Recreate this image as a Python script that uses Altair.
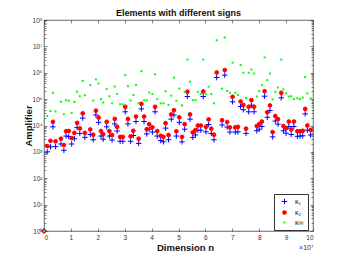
import altair as alt
import pandas as pd

# Dimension n in units of 1e7
n_e7 = [0, 0.12, 0.24, 0.33, 0.43, 0.63, 0.74, 0.82, 0.92, 1.03, 1.13, 1.23, 1.33, 1.44, 1.52,
        1.72, 1.83, 1.93, 2.03, 2.12, 2.20, 2.33, 2.43, 2.53, 2.63, 2.72, 2.83, 2.93, 3.02, 3.12,
        3.22, 3.32, 3.42, 3.52, 3.62, 3.72, 3.82, 3.91, 4.03, 4.13, 4.21, 4.34, 4.44, 4.52, 4.63,
        4.73, 4.83, 4.92, 5.03, 5.13, 5.23, 5.33, 5.43, 5.53, 5.63, 5.72, 5.83, 5.92, 6.02, 6.12,
        6.22, 6.32, 6.42, 6.62, 6.72, 6.81, 6.91, 7.01, 7.11, 7.21, 7.31, 7.41, 7.51, 7.61, 7.71,
        7.81, 7.91, 8.00, 8.10, 8.20, 8.30, 8.40, 8.50, 8.60, 8.70, 8.82, 8.90, 9.00, 9.10, 9.19,
        9.29, 9.42, 9.52, 9.62, 9.71, 9.79, 9.91]

# log10 of the amplifier
log_k1 = [0, 3.00, 3.19, 3.95, 3.20, 3.30, 3.06, 3.60, 3.58, 3.30, 3.50, 3.92, 3.70, 4.28, 3.55,
          3.66, 3.46, 4.40, 4.12, 3.60, 3.48, 3.95, 3.60, 3.45, 4.06, 3.79, 3.40, 3.40, 4.52, 4.06,
          3.40, 3.62, 4.15, 3.32, 4.63, 4.15, 3.68, 3.86, 3.75, 4.52, 3.60, 3.43, 3.38, 3.90, 3.46,
          4.24, 4.40, 3.60, 4.12, 3.38, 3.86, 5.10, 4.24, 3.55, 3.64, 3.82, 3.82, 5.10, 3.76, 4.04,
          3.70, 3.46, 5.82, 4.02, 5.91, 3.94, 3.75, 4.90, 3.75, 3.76, 4.72, 4.60, 3.70, 4.52, 4.77,
          4.52, 3.80, 3.86, 3.96, 5.11, 4.31, 4.57, 3.57, 4.17, 4.05, 5.05, 3.80, 3.71, 3.96, 3.66,
          3.96, 3.59, 3.60, 3.61, 4.44, 3.82, 3.64]

log_k2 = [0, 3.22, 3.42, 4.14, 3.40, 3.50, 3.26, 3.78, 3.79, 3.52, 3.72, 4.10, 3.89, 4.46, 3.72,
          3.85, 3.65, 4.56, 4.30, 3.79, 3.67, 4.14, 3.79, 3.64, 4.25, 3.95, 3.57, 3.57, 4.71, 4.25,
          3.59, 3.80, 4.34, 3.50, 4.82, 4.34, 3.86, 4.05, 3.93, 4.71, 3.79, 3.61, 3.57, 4.09, 3.64,
          4.42, 4.58, 3.78, 4.31, 3.57, 4.05, 5.28, 4.42, 3.74, 3.83, 4.00, 4.00, 5.29, 3.95, 4.23,
          3.88, 3.65, 6.01, 4.20, 6.10, 4.13, 3.93, 5.09, 3.93, 3.95, 4.91, 4.78, 3.88, 4.71, 4.96,
          4.71, 3.98, 4.05, 4.15, 5.30, 4.50, 4.76, 3.75, 4.36, 4.24, 5.24, 3.98, 3.90, 4.15, 3.85,
          4.15, 3.78, 3.78, 3.80, 4.63, 4.00, 3.83]

log_kinf = [0, 4.36, 4.55, 5.24, 4.53, 4.90, 4.43, 4.96, 4.94, 4.48, 4.89, 5.28, 5.11, 5.69, 5.15,
            5.53, 4.95, 5.75, 5.59, 5.00, 4.87, 5.38, 5.11, 4.84, 5.48, 5.20, 4.81, 4.80, 5.91, 5.49,
            4.95, 5.16, 5.54, 4.85, 6.06, 4.95, 4.96, 5.25, 5.19, 5.94, 5.00, 4.84, 4.84, 5.30, 4.78,
            5.13, 5.81, 4.94, 5.40, 4.76, 5.28, 6.50, 5.66, 4.96, 4.96, 5.28, 5.20, 6.50, 5.19, 5.47,
            5.19, 4.84, 7.23, 5.40, 7.34, 5.31, 5.24, 6.38, 5.24, 5.16, 6.29, 6.00, 5.04, 6.00, 6.12,
            5.97, 5.10, 5.31, 5.53, 6.58, 5.72, 5.97, 4.99, 5.28, 5.44, 6.50, 5.37, 5.22, 5.10, 5.11,
            5.00, 5.03, 5.00, 5.06, 5.84, 5.22, 5.03]

series_names = ["κ₁", "κ₂", "κ∞"]
series_colors = ["#0000FF", "#FF0000", "#00FF00"]
series_shapes = ["M-1,0L1,0M0,-1L0,1", "circle", "square"]
series_sizes = [30, 14, 4]
series_strokes = [1, 1, 0]

x_ticks = list(range(0, 11))
y_decades = [10.0 ** k for k in range(0, 9)]
y_minor = [m * 10.0 ** k for k in range(0, 8) for m in range(2, 10)]
sup = ["⁰", "¹", "²", "³", "⁴", "⁵", "⁶", "⁷", "⁸"]

rows = []
for name, vals in zip(series_names, [log_k1, log_k2, log_kinf]):
    for n, v in zip(n_e7, vals):
        rows.append({"n": n, "amp": 10.0 ** v, "series": name})
df = pd.DataFrame(rows)

FONT = "Liberation Sans"
AX = "#333333"
xscale = alt.Scale(domain=[0, 10], nice=False, zero=False)
yscale = alt.Scale(type="log", domain=[1, 1e8], nice=False)

sup_js = "[" + ",".join("'" + s + "'" for s in sup) + "]"
y_label_expr = "'10' + " + sup_js + "[round(log(datum.value)/LN10)]"

legend = alt.Legend(title=None, orient="none", legendX=230, legendY=174, padding=4,
                    strokeColor=AX, fillColor="white", labelFont=FONT, labelFontSize=7,
                    labelColor="#111", labelOffset=7, rowPadding=1, symbolStrokeWidth=1,
                    symbolOffset=3)


def tick_axis(orient, values, size):
    return alt.Axis(orient=orient, values=values, offset=-size, tickSize=size, labels=False,
                    domain=False, grid=False, title=None, tickColor=AX, tickWidth=0.6)


base = alt.Chart(df)

data_layer = base.mark_point(filled=True, opacity=1).encode(
    x=alt.X("n:Q", scale=xscale,
            axis=alt.Axis(values=x_ticks, ticks=False, domain=False, grid=False, format="d",
                          labelFont=FONT, labelFontSize=6.5, labelColor=AX, labelPadding=3,
                          title="Dimension n", titleFont=FONT, titleFontSize=9.5,
                          titleFontWeight="bold", titleColor="#111", titleX=141, titleY=19,
                          titleBaseline="alphabetic", titleAlign="center")),
    y=alt.Y("amp:Q", scale=yscale,
            axis=alt.Axis(values=y_decades, ticks=False, domain=False, grid=False,
                          labelExpr=y_label_expr, labelFont=FONT, labelFontSize=6.5,
                          labelColor=AX, labelPadding=2, title="Amplifier", titleFont=FONT,
                          titleFontSize=9.5, titleFontWeight="bold", titleColor="#111",
                          titleX=-16, titleY=105.5, titleAngle=270, titleBaseline="middle",
                          titleAlign="center")),
    fill=alt.Fill("series:N", scale=alt.Scale(domain=series_names, range=series_colors), legend=legend),
    stroke=alt.Stroke("series:N", scale=alt.Scale(domain=series_names, range=series_colors), legend=legend),
    shape=alt.Shape("series:N", scale=alt.Scale(domain=series_names, range=series_shapes), legend=legend),
    size=alt.Size("series:N", scale=alt.Scale(type="ordinal", domain=series_names, range=series_sizes), legend=legend),
    strokeWidth=alt.StrokeWidth("series:N", scale=alt.Scale(type="ordinal", domain=series_names, range=series_strokes), legend=None),
)

ticks_major_a = base.mark_point(opacity=0).encode(
    x=alt.X("n:Q", scale=xscale, axis=tick_axis("bottom", x_ticks, 3)),
    y=alt.Y("amp:Q", scale=yscale, axis=tick_axis("left", y_decades, 3)),
)
ticks_major_b = base.mark_point(opacity=0).encode(
    x=alt.X("n:Q", scale=xscale, axis=tick_axis("top", x_ticks, 3)),
    y=alt.Y("amp:Q", scale=yscale, axis=tick_axis("right", y_decades, 3)),
)
ticks_minor_a = base.mark_point(opacity=0).encode(
    x=alt.X("n:Q", scale=xscale,
            axis=alt.Axis(orient="bottom", ticks=False, labels=False, domain=False, grid=False,
                          title="×10⁷", titleFont=FONT, titleFontSize=7, titleFontWeight="normal",
                          titleColor=AX, titleX=269, titleY=18, titleAlign="right",
                          titleBaseline="alphabetic")),
    y=alt.Y("amp:Q", scale=yscale, axis=tick_axis("left", y_minor, 2)),
)
ticks_minor_b = base.mark_point(opacity=0).encode(
    x=alt.X("n:Q", scale=xscale, axis=None),
    y=alt.Y("amp:Q", scale=yscale, axis=tick_axis("right", y_minor, 2)),
)

chart = alt.layer(
    data_layer, ticks_major_a, ticks_major_b, ticks_minor_a, ticks_minor_b
).resolve_axis(
    x="independent", y="independent"
).properties(
    width=269, height=211,
    title=alt.Title("Elements with different signs", font=FONT, fontSize=9, fontWeight="bold",
                    color="#111", anchor="middle", offset=4, dy=5),
    autosize=alt.AutoSizeParams(type="none"),
    padding={"left": 36, "top": 12, "right": 25, "bottom": 21},
    background="white",
).configure_view(stroke=AX, strokeWidth=0.75)

chart.save("out.html", embed_options={"renderer": "svg", "actions": False})
